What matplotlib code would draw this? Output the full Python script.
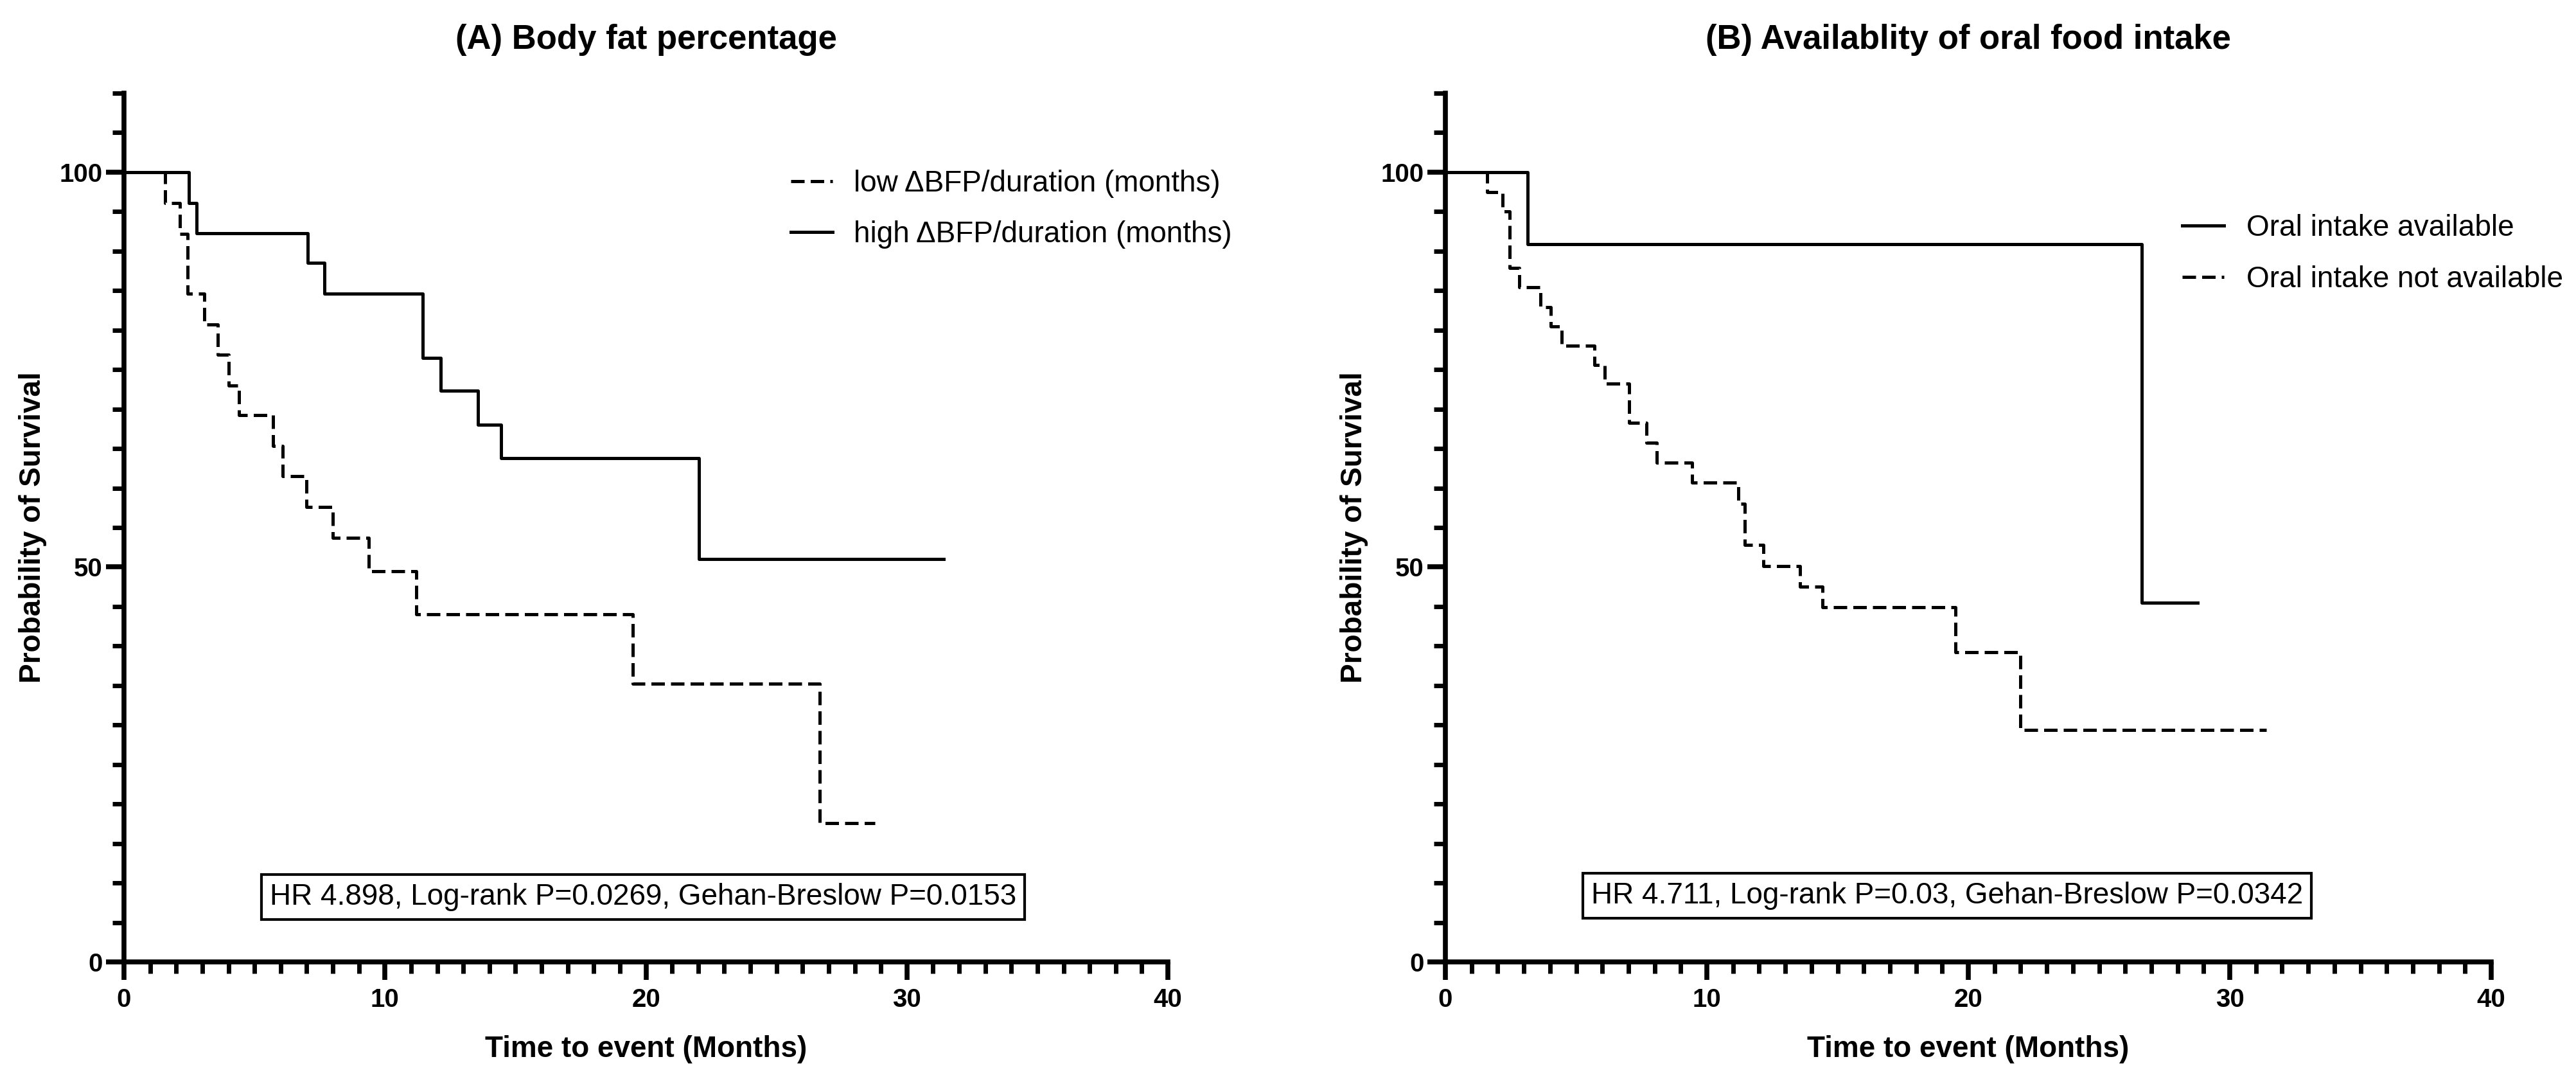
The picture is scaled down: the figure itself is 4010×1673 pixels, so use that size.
import matplotlib
matplotlib.use("Agg")
import matplotlib.pyplot as plt
from matplotlib.ticker import MultipleLocator

plt.rcParams['font.family'] = ['Liberation Sans', 'DejaVu Sans']

# (A) Body fat percentage - Kaplan-Meier steps (months, % survival)
a_low_t = [0, 1.58, 2.14, 2.44, 3.08, 3.60, 4.00, 4.40, 5.71, 6.09, 6.99, 8.00, 9.38, 11.20, 19.50, 26.66, 28.77]
a_low_s = [100, 96.1, 92.2, 84.6, 80.7, 76.9, 73.0, 69.2, 65.3, 61.5, 57.6, 53.7, 49.5, 44.0, 35.2, 17.6, 17.6]
a_high_t = [0, 2.49, 2.78, 7.05, 7.69, 11.45, 12.14, 13.57, 14.44, 22.04, 31.40]
a_high_s = [100, 96.1, 92.3, 88.5, 84.6, 76.5, 72.3, 68.0, 63.8, 51.0, 51.0]

# (B) Availability of oral food intake
b_avail_t = [0, 3.14, 26.63, 28.76]
b_avail_s = [100, 90.9, 45.5, 45.5]
b_not_t = [0, 1.60, 2.19, 2.45, 2.83, 3.63, 4.04, 4.45, 5.70, 6.09, 7.02, 7.68, 8.08, 9.43,
           11.20, 11.44, 12.17, 13.57, 14.43, 19.50, 22.00, 31.40]
b_not_s = [100, 97.5, 95.0, 87.9, 85.4, 82.9, 80.5, 78.0, 75.6, 73.2, 68.3, 65.7, 63.2, 60.7,
           58.0, 52.8, 50.1, 47.5, 44.9, 39.2, 29.4, 29.4]

titles = ["(A) Body fat percentage", "(B) Availablity of oral food intake"]
stats = ["HR 4.898, Log-rank P=0.0269, Gehan-Breslow P=0.0153",
         "HR 4.711, Log-rank P=0.03, Gehan-Breslow P=0.0342"]

LW = 3.6
DASH = (4.2, 1.9)
FS_LABEL = 33
FS_TICK = 29

fig = plt.figure(figsize=(40.10, 16.73), dpi=100)
ax_a = fig.add_axes([0.04813, 0.10520, 0.40524, 0.80813])
ax_b = fig.add_axes([0.56110, 0.10520, 0.40599, 0.80813])


def style_axes(ax, title):
    ax.set_xlim(0, 40)
    ax.set_ylim(0, 110)
    for side in ("top", "right"):
        ax.spines[side].set_visible(False)
    for side in ("left", "bottom"):
        ax.spines[side].set_linewidth(5.5)
        ax.spines[side].set_capstyle("projecting")
    ax.xaxis.set_major_locator(MultipleLocator(10))
    ax.xaxis.set_minor_locator(MultipleLocator(1))
    ax.set_yticks([0, 50, 100])
    ax.yaxis.set_minor_locator(MultipleLocator(5))
    ax.tick_params(which="major", direction="out", length=20, width=5.5, pad=4,
                   labelsize=FS_TICK)
    ax.tick_params(which="minor", direction="out", length=13, width=5.0)
    ax.tick_params(axis="x", which="major", pad=9)
    for lab in ax.get_xticklabels() + ax.get_yticklabels():
        lab.set_fontweight("bold")
    ax.set_xlabel("Time to event (Months)", fontsize=FS_LABEL, fontweight="bold", labelpad=26)
    ax.set_ylabel("Probability of Survival", fontsize=FS_LABEL, fontweight="bold", labelpad=14)
    ax.set_title(title, fontsize=38, fontweight="bold", pad=50)


# Panel A
style_axes(ax_a, titles[0])
ax_a.plot(a_low_t, a_low_s, drawstyle="steps-post", color="black", lw=LW,
          linestyle=(0, DASH), label="low \u0394BFP/duration (months)", clip_on=False)
ax_a.plot(a_high_t, a_high_s, drawstyle="steps-post", color="black", lw=LW,
          label="high \u0394BFP/duration (months)", clip_on=False)
ax_a.legend(loc="upper left", bbox_to_anchor=(0.639, 0.912), frameon=False, fontsize=FS_LABEL,
            handlelength=1.42, handletextpad=0.72, labelspacing=0.76, borderpad=0, borderaxespad=0)
ax_a.text(19.9, 8.2, stats[0], fontsize=FS_LABEL, ha="center", va="center",
          bbox=dict(boxstyle="square,pad=0.28", facecolor="white", edgecolor="black", linewidth=3))

# Panel B
style_axes(ax_b, titles[1])
ax_b.plot(b_avail_t, b_avail_s, drawstyle="steps-post", color="black", lw=LW,
          label="Oral intake available", clip_on=False)
ax_b.plot(b_not_t, b_not_s, drawstyle="steps-post", color="black", lw=LW,
          linestyle=(0, DASH), label="Oral intake not available", clip_on=False)
ax_b.legend(loc="upper left", bbox_to_anchor=(0.7045, 0.861), frameon=False, fontsize=FS_LABEL,
            handlelength=1.42, handletextpad=0.76, labelspacing=0.78, borderpad=0, borderaxespad=0)
ax_b.text(19.19, 8.4, stats[1], fontsize=FS_LABEL, ha="center", va="center",
          bbox=dict(boxstyle="square,pad=0.28", facecolor="white", edgecolor="black", linewidth=3))

fig.savefig("out.png", dpi=100, facecolor="white")
